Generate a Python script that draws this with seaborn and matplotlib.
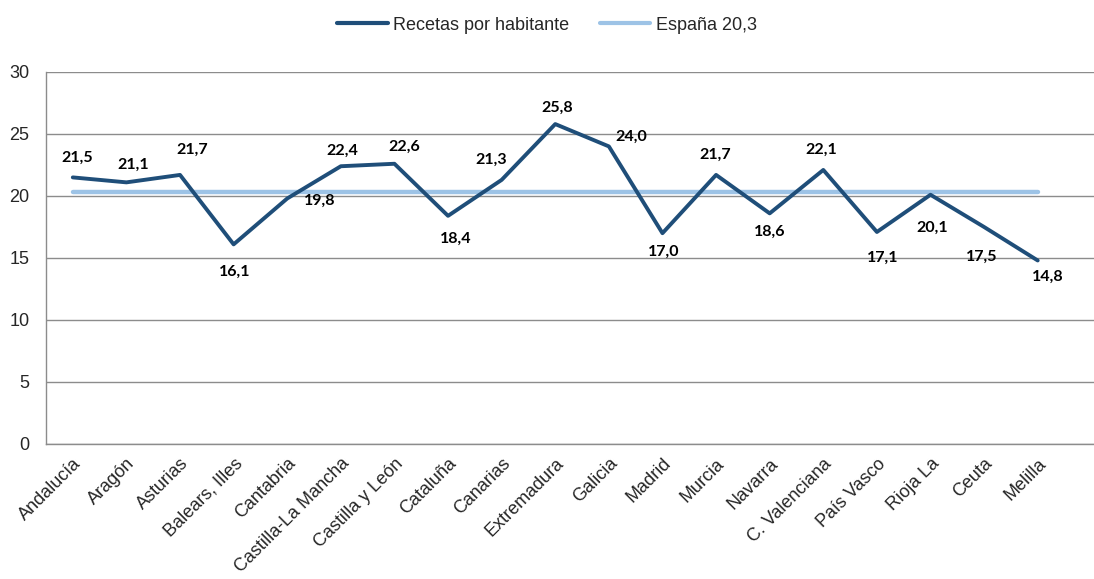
import pandas as pd
import seaborn as sns
import matplotlib.pyplot as plt
from matplotlib.lines import Line2D

# =============================================================================
# Data
# =============================================================================

regiones = [
    "Andalucía", "Aragón", "Asturias", "Balears, Illes", "Cantabria",
    "Castilla-La Mancha", "Castilla y León", "Cataluña", "Canarias",
    "Extremadura", "Galicia", "Madrid", "Murcia", "Navarra",
    "C. Valenciana", "País Vasco", "Rioja La", "Ceuta", "Melilla",
]
recetas = [
    21.5, 21.1, 21.7, 16.1, 19.8, 22.4, 22.6, 18.4, 21.3, 25.8,
    24.0, 17.0, 21.7, 18.6, 22.1, 17.1, 20.1, 17.5, 14.8,
]
espana = 20.3

# label offsets in pixels (dx, dy)
label_offsets = [
    (4, 20), (7, 18), (12, 25), (1, -27), (32, -2), (1, 15), (10, 17),
    (8, -23), (-10, 20), (2, 16), (22, 10), (1, -19), (-1, 20), (0, -18),
    (-2, 20), (6, -26), (2, -33), (-2, -30), (10, -16),
]

df = pd.DataFrame({"Region": regiones, "Recetas": recetas})
df["x"] = range(len(df))
df["Espana"] = espana

dark_blue = "#1F4E79"
light_blue = "#9DC3E6"
grid_gray = "#8C8C8C"

# =============================================================================
# Plot
# =============================================================================

sns.set_theme(style="white")
plt.rcParams["font.family"] = ["Liberation Sans", "DejaVu Sans"]

fig = plt.figure(figsize=(10.94, 5.79), dpi=100)
ax = fig.add_axes([46 / 1094, 1 - 444 / 579, 1 - 46 / 1094, (444 - 72) / 579])

sns.lineplot(data=df, x="x", y="Espana", color=light_blue, linewidth=3.2,
             ax=ax, zorder=2)
sns.lineplot(data=df, x="x", y="Recetas", color=dark_blue, linewidth=2.8,
             ax=ax, zorder=3)

for (xi, yi), (dx, dy) in zip(zip(df["x"], df["Recetas"]), label_offsets):
    ax.annotate(
        f"{yi:.1f}".replace(".", ","),
        xy=(xi, yi),
        xytext=(dx, dy),
        textcoords="offset pixels",
        ha="center",
        va="center",
        fontsize=11.5,
        fontweight="bold",
        family=["Lato", "DejaVu Sans"],
        color="black",
        annotation_clip=False,
    )

ax.set_ylim(0, 30)
ax.set_yticks([0, 5, 10, 15, 20, 25, 30])
ax.set_xlim(-0.5, 19.05)
ax.set_xticks(df["x"])
ax.set_xticklabels(regiones, rotation=45, ha="right", va="top",
                   rotation_mode="anchor", fontsize=13)
ax.tick_params(axis="y", length=0, pad=12, labelsize=13)
ax.tick_params(axis="x", length=0, pad=8)

ax.grid(axis="y", color=grid_gray, linewidth=1)
ax.set_axisbelow(True)
ax.set_xlabel("")
ax.set_ylabel("")

for side in ["top", "right"]:
    ax.spines[side].set_visible(False)
for side in ["left", "bottom"]:
    ax.spines[side].set_color(grid_gray)
    ax.spines[side].set_linewidth(1)

handles = [
    Line2D([0], [0], color=dark_blue, linewidth=3),
    Line2D([0], [0], color=light_blue, linewidth=3),
]
fig.legend(
    handles,
    ["Recetas por habitante", "España 20,3"],
    loc="center",
    bbox_to_anchor=(0.5, 1 - 25 / 579),
    ncol=2,
    frameon=False,
    fontsize=13,
    handlelength=2.8,
    handletextpad=0.3,
    columnspacing=1.7,
)

fig.savefig("out.png", dpi=100)
